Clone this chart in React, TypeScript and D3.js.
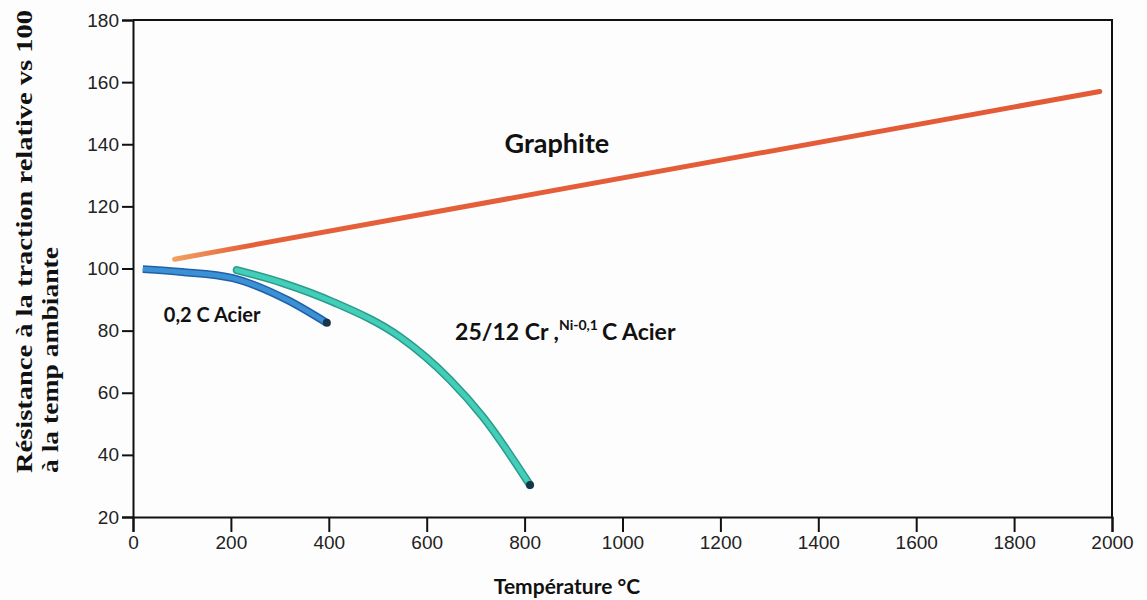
import { useEffect, useRef } from "react";
import * as d3 from "d3";

// values
const xTicks = [0, 200, 400, 600, 800, 1000, 1200, 1400, 1600, 1800, 2000];
const yTicks = [20, 40, 60, 80, 100, 120, 140, 160, 180];

const graphiteTemp = [85, 1975];
const graphiteVal = [103, 157];

const acierTemp = [20, 100, 204, 315, 396];
const acierVal = [99.8, 98.9, 96.9, 89.9, 82.5];

const crNiTemp = [212, 306, 409, 545, 648, 715, 811];
const crNiVal = [99.5, 95.3, 89.2, 78, 64.1, 52.2, 30.3];

type Pt = { t: number; v: number };
const zip = (t: number[], v: number[]): Pt[] => t.map((d, i) => ({ t: d, v: v[i] }));

const App = () => {
    const svgRef = useRef<SVGSVGElement | null>(null);

    useEffect(() => {
        if (!svgRef.current) return;
        const svg = d3.select(svgRef.current);
        svg.selectAll("*").remove();

        const margin = { top: 20, right: 35, bottom: 83, left: 133 };
        const width = 1147;
        const height = 600;

        const x = d3.scaleLinear().domain([0, 2000]).range([margin.left, width - margin.right]);
        const y = d3.scaleLinear().domain([20, 180]).range([height - margin.bottom, margin.top]);

        svg.append("rect").attr("width", width).attr("height", height).attr("fill", "#fdfdfd");

        // gradient so the graphite stroke fades in at its start, like the marker
        const grad = svg.append("defs").append("linearGradient")
            .attr("id", "graphiteGrad")
            .attr("gradientUnits", "userSpaceOnUse")
            .attr("x1", x(graphiteTemp[0])).attr("x2", x(graphiteTemp[1]))
            .attr("y1", 0).attr("y2", 0);
        grad.append("stop").attr("offset", "0%").attr("stop-color", "#f0a060");
        grad.append("stop").attr("offset", "8%").attr("stop-color", "#e5603a");
        grad.append("stop").attr("offset", "100%").attr("stop-color", "#e35a36");

        // frame (top + right)
        svg.append("path")
            .attr("d", `M${x(0)},${y(180)}H${x(2000)}V${y(20)}`)
            .attr("fill", "none")
            .attr("stroke", "#111")
            .attr("stroke-width", 2);

        const tickFont = "'Liberation Sans', Arial, sans-serif";

        const xAxis = svg.append("g")
            .attr("transform", `translate(0,${y(20)})`)
            .call(d3.axisBottom(x).tickValues(xTicks).tickSize(15).tickPadding(4).tickFormat(d3.format("d")));
        xAxis.selectAll("line").attr("stroke", "#111").attr("stroke-width", 2);
        xAxis.select(".domain").attr("stroke", "#111").attr("stroke-width", 2);
        xAxis.selectAll("text").attr("font-family", tickFont).attr("font-size", 19).attr("fill", "#222");

        const yAxis = svg.append("g")
            .attr("transform", `translate(${x(0)},0)`)
            .call(d3.axisLeft(y).tickValues(yTicks).tickSize(11).tickPadding(3).tickFormat(d3.format("d")));
        yAxis.selectAll("line").attr("stroke", "#111").attr("stroke-width", 2);
        yAxis.select(".domain").attr("stroke", "#111").attr("stroke-width", 2);
        yAxis.selectAll("text").attr("font-family", tickFont).attr("font-size", 19).attr("fill", "#222");

        const line = d3.line<Pt>()
            .x(d => x(d.t))
            .y(d => y(d.v))
            .curve(d3.curveMonotoneX);

        // Graphite (straight line)
        svg.append("path")
            .datum(zip(graphiteTemp, graphiteVal))
            .attr("d", line)
            .attr("fill", "none")
            .attr("stroke", "url(#graphiteGrad)")
            .attr("stroke-width", 5)
            .attr("stroke-linecap", "round");

        // 25/12 Cr Ni steel
        const cr = zip(crNiTemp, crNiVal);
        svg.append("path").datum(cr).attr("d", line)
            .attr("fill", "none").attr("stroke", "#2a9c8a").attr("stroke-width", 8).attr("stroke-linecap", "round");
        svg.append("path").datum(cr).attr("d", line)
            .attr("fill", "none").attr("stroke", "#44cdb8").attr("stroke-width", 5).attr("stroke-linecap", "round");

        // 0,2 C steel
        const ac = zip(acierTemp, acierVal);
        svg.append("path").datum(ac).attr("d", line)
            .attr("fill", "none").attr("stroke", "#1f62a8").attr("stroke-width", 8).attr("stroke-linecap", "butt");
        svg.append("path").datum(ac).attr("d", line)
            .attr("fill", "none").attr("stroke", "#3b91d3").attr("stroke-width", 5).attr("stroke-linecap", "butt");

        // dark ends
        [ac[ac.length - 1], cr[cr.length - 1]].forEach(p => {
            svg.append("circle").attr("cx", x(p.t)).attr("cy", y(p.v)).attr("r", 4).attr("fill", "#17364a");
        });

        const labelFont = "Lato, 'Open Sans', sans-serif";

        svg.append("text")
            .attr("x", x(866)).attr("y", y(137.2))
            .attr("text-anchor", "middle")
            .attr("font-family", labelFont).attr("font-weight", 700).attr("font-size", 27)
            .attr("fill", "#111")
            .text("Graphite");

        svg.append("text")
            .attr("x", x(63)).attr("y", y(82.8))
            .attr("font-family", labelFont).attr("font-weight", 700).attr("font-size", 20)
            .attr("fill", "#111")
            .text("0,2 C Acier");

        const crLabel = svg.append("text")
            .attr("x", x(658)).attr("y", y(77))
            .attr("font-family", labelFont).attr("font-weight", 700).attr("font-size", 23)
            .attr("fill", "#111");
        crLabel.append("tspan").text("25/12 Cr ,");
        crLabel.append("tspan").attr("dy", -10).attr("font-size", 14).text("Ni-0,1");
        crLabel.append("tspan").attr("dy", 10).attr("dx", 4).text("C Acier");

        // axis titles
        svg.append("text")
            .attr("x", 567).attr("y", 594)
            .attr("text-anchor", "middle")
            .attr("font-family", labelFont).attr("font-weight", 700).attr("font-size", 21)
            .attr("fill", "#111")
            .text("Température °C");

        const serif = "'Liberation Serif', 'Times New Roman', serif";
        const yTitle = svg.append("g").attr("transform", "translate(0,473) rotate(-90)");
        yTitle.append("text")
            .attr("x", 0).attr("y", 32)
            .attr("font-family", serif).attr("font-weight", 700).attr("font-size", 24)
            .attr("fill", "#111")
            .attr("textLength", 463).attr("lengthAdjust", "spacingAndGlyphs")
            .text("Résistance à la traction relative vs 100");
        yTitle.append("text")
            .attr("x", 0).attr("y", 58)
            .attr("font-family", serif).attr("font-weight", 700).attr("font-size", 24)
            .attr("fill", "#111")
            .attr("textLength", 226).attr("lengthAdjust", "spacingAndGlyphs")
            .text("à la temp ambiante");
    }, []);

    return (
        <svg
            ref={svgRef}
            width={1147}
            height={600}
            style={{ position: "absolute", left: 0, top: 0, display: "block" }}
        />
    );
};

export default App;
